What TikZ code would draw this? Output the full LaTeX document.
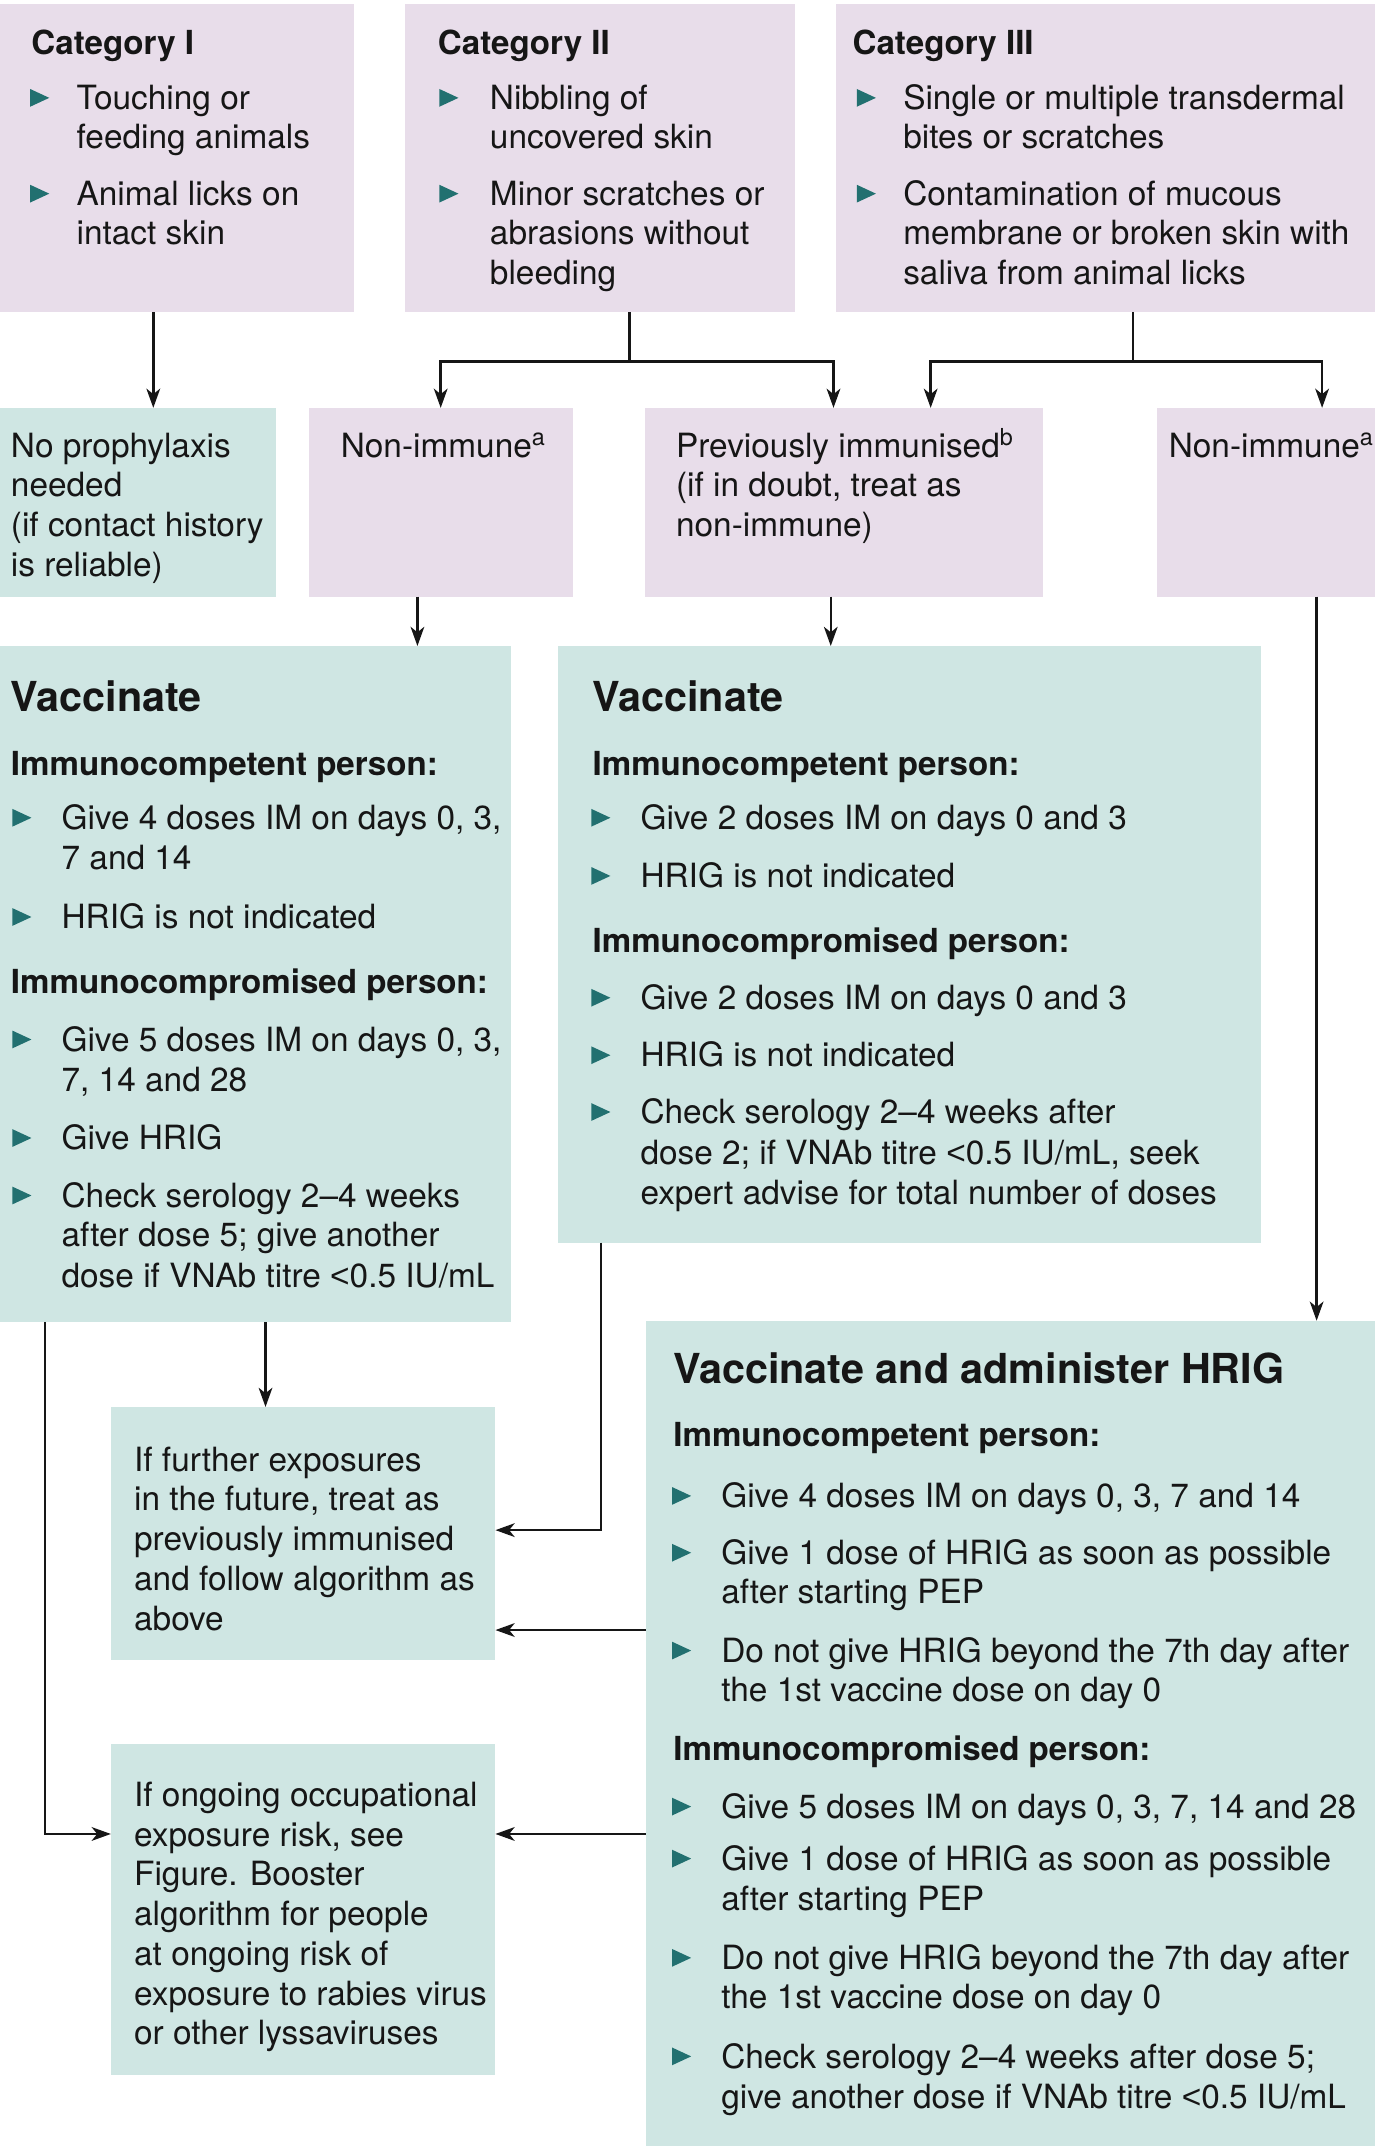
\documentclass[tikz,border=0pt]{standalone}
\usepackage{fontspec}
\setmainfont{TeX Gyre Heros}
\newfontfamily\lsans{Liberation Sans}
\newcommand\lt{{\lsans <}}
\usetikzlibrary{arrows.meta,fit}
\definecolor{pinkbg}{RGB}{232,221,234}
\definecolor{tealbg}{RGB}{207,230,227}
\definecolor{bulcol}{RGB}{34,112,112}
\definecolor{txtcol}{RGB}{22,22,22}
\newcounter{tn}
\newcommand\txtline[3]{\stepcounter{tn}\node[txt] (t\arabic{tn}) at (#1,#2) {#3};}
\newcommand\hdline[3]{\stepcounter{tn}\node[hdtxt] (t\arabic{tn}) at (#1,#2) {#3};}
\newcommand\subhd[3]{\stepcounter{tn}\node[shtxt] (t\arabic{tn}) at (#1,#2) {#3};}
\newcommand\bitem[4]{\fill[bulcol] (#1,#3-2) -- (#1,#3-15) -- (#1+14,#3-8.5) -- cycle; \txtline{#2}{#3}{#4}}
\newcommand\mkbox[6]{\node[#2, fit={(#3,#4) (#5,#6)}] (#1) {};}
\begin{document}
\begin{tikzpicture}[x=0.5pt, y=-0.5pt,
  txt/.style={anchor=base west, inner sep=0pt, outer sep=0pt, text=txtcol, font=\fontsize{12.2}{14.6}\selectfont},
  hdtxt/.style={txt, font=\fontsize{15.1}{18}\selectfont\bfseries},
  shtxt/.style={txt, font=\fontsize{12.1}{14.5}\selectfont\bfseries},
  pinkbox/.style={fill=pinkbg, inner sep=0pt, outer sep=0pt},
  tealbox/.style={fill=tealbg, inner sep=0pt, outer sep=0pt},
  conn/.style={line width=0.9pt, draw=txtcol},
  arr/.style={conn, -{Stealth[length=7pt,width=5pt,inset=2pt]}}]
\useasboundingbox (0,0) rectangle (1005,1568);
% boxes
\mkbox{cat1}{pinkbox}{0}{3}{259}{228}
\mkbox{cat2}{pinkbox}{296}{3}{581}{228}
\mkbox{cat3}{pinkbox}{611}{3}{1005}{228}
\mkbox{noproph}{tealbox}{0}{298}{202}{436}
\mkbox{nonimm1}{pinkbox}{226}{298}{419}{436}
\mkbox{previmm}{pinkbox}{471}{298}{762}{436}
\mkbox{nonimm2}{pinkbox}{845}{298}{1005}{436}
\mkbox{vacc1}{tealbox}{0}{472}{373}{966}
\mkbox{vacc2}{tealbox}{408}{472}{921}{908}
\mkbox{vacc3}{tealbox}{472}{965}{1005}{1568}
\mkbox{further}{tealbox}{81}{1028}{362}{1213}
\mkbox{ongoing}{tealbox}{81}{1274}{362}{1516}
% Category I
\subhd{23}{40}{Category I}
\bitem{22}{56}{80}{Touching or}
\txtline{56}{108.5}{feeding animals}
\bitem{22}{56}{150}{Animal licks on}
\txtline{56}{179}{intact skin}
% Category II
\subhd{320}{40}{Category II}
\bitem{321}{358}{80}{Nibbling of}
\txtline{358}{108.5}{uncovered skin}
\bitem{321}{358}{150}{Minor scratches or}
\txtline{358}{179}{abrasions without}
\txtline{358}{208}{bleeding}
% Category III
\subhd{623}{40}{Category III}
\bitem{626}{660}{80}{Single or multiple transdermal}
\txtline{660}{108.5}{bites or scratches}
\bitem{626}{660}{150}{Contamination of mucous}
\txtline{660}{179}{membrane or broken skin with}
\txtline{660}{208}{saliva from animal licks}
% second row
\txtline{8}{334}{No prophylaxis}
\txtline{8}{363}{needed}
\txtline{8}{392}{(if contact history}
\txtline{8}{421}{is reliable)}
\txtline{249}{334}{Non-immune\textsuperscript{a}}
\txtline{494}{334}{Previously immunised\textsuperscript{b}}
\txtline{494}{363}{(if in doubt, treat as}
\txtline{494}{392}{non-immune)}
\txtline{854}{334}{Non-immune\textsuperscript{a}}
% Vaccinate 1
\hdline{8}{519.5}{Vaccinate}
\subhd{8}{566.5}{Immunocompetent person:}
\bitem{9}{45}{606}{Give 4 doses IM on days 0, 3,}
\txtline{45}{635.5}{7 and 14}
\bitem{9}{45}{678.5}{HRIG is not indicated}
\subhd{8}{726}{Immunocompromised person:}
\bitem{9}{45}{768}{Give 5 doses IM on days 0, 3,}
\txtline{45}{797.5}{7, 14 and 28}
\bitem{9}{45}{840}{Give HRIG}
\bitem{9}{45}{882}{Check serology 2–4 weeks}
\txtline{45}{911}{after dose 5; give another}
\txtline{45}{941}{dose if VNAb titre \lt0.5 IU/mL}
% Vaccinate 2
\hdline{433}{519.5}{Vaccinate}
\subhd{433}{566.5}{Immunocompetent person:}
\bitem{432}{468}{606}{Give 2 doses IM on days 0 and 3}
\bitem{432}{468}{648.5}{HRIG is not indicated}
\subhd{433}{696}{Immunocompromised person:}
\bitem{432}{468}{737.5}{Give 2 doses IM on days 0 and 3}
\bitem{432}{468}{779.5}{HRIG is not indicated}
\bitem{432}{468}{821}{Check serology 2–4 weeks after}
\txtline{468}{851}{dose 2; if VNAb titre \lt0.5 IU/mL, seek}
\txtline{468}{880}{expert advise for total number of doses}
% Vaccinate and administer HRIG
\hdline{492}{1011}{Vaccinate and administer HRIG}
\subhd{492}{1057}{Immunocompetent person:}
\bitem{491}{527}{1101.5}{Give 4 doses IM on days 0, 3, 7 and 14}
\bitem{491}{527}{1143}{Give 1 dose of HRIG as soon as possible}
\txtline{527}{1171.5}{after starting PEP}
\bitem{491}{527}{1214.5}{Do not give HRIG beyond the 7th day after}
\txtline{527}{1243}{the 1st vaccine dose on day 0}
\subhd{492}{1286.5}{Immunocompromised person:}
\bitem{491}{527}{1328.5}{Give 5 doses IM on days 0, 3, 7, 14 and 28}
\bitem{491}{527}{1366.5}{Give 1 dose of HRIG as soon as possible}
\txtline{527}{1396}{after starting PEP}
\bitem{491}{527}{1439}{Do not give HRIG beyond the 7th day after}
\txtline{527}{1467.5}{the 1st vaccine dose on day 0}
\bitem{491}{527}{1511}{Check serology 2–4 weeks after dose 5;}
\txtline{527}{1540.5}{give another dose if VNAb titre \lt0.5 IU/mL}
% further
\txtline{98}{1075}{If further exposures}
\txtline{98}{1104}{in the future, treat as}
\txtline{98}{1133}{previously immunised}
\txtline{98}{1162}{and follow algorithm as}
\txtline{98}{1191}{above}
% ongoing
\txtline{98}{1320}{If ongoing occupational}
\txtline{98}{1349}{exposure risk, see}
\txtline{98}{1378}{Figure. Booster}
\txtline{98}{1407}{algorithm for people}
\txtline{98}{1436}{at ongoing risk of}
\txtline{98}{1465}{exposure to rabies virus}
\txtline{98}{1494}{or other lyssaviruses}
% connectors
\coordinate (j2) at (460,264);
\coordinate (j3) at (828,264);
\draw[arr] (cat1.south -| 112,0) -- (noproph.north -| 112,0);
\draw[conn] (cat2.south -| 460,0) -- (j2);
\draw[arr] (j2) -| (nonimm1.north -| 322,0);
\draw[arr] (j2) -| (previmm.north -| 609,0);
\draw[conn] (cat3.south -| 828,0) -- (j3);
\draw[arr] (j3) -| (previmm.north -| 680,0);
\draw[arr] (j3) -| (nonimm2.north -| 966,0);
\draw[arr] (nonimm1.south -| 305,0) -- (vacc1.north -| 305,0);
\draw[arr] (previmm.south -| 607,0) -- (vacc2.north -| 607,0);
\draw[arr] (nonimm2.south -| 962,0) -- (vacc3.north -| 962,0);
\draw[arr] (vacc1.south -| 194,0) -- (further.north -| 194,0);
\draw[arr] (vacc1.south -| 33,0) |- (ongoing.west |- 0,1340);
\draw[arr] (vacc2.south -| 439,0) |- (further.east |- 0,1118);
\draw[arr] (vacc3.west |- 0,1191) -- (further.east |- 0,1191);
\draw[arr] (vacc3.west |- 0,1340) -- (ongoing.east |- 0,1340);
\end{tikzpicture}
\end{document}
